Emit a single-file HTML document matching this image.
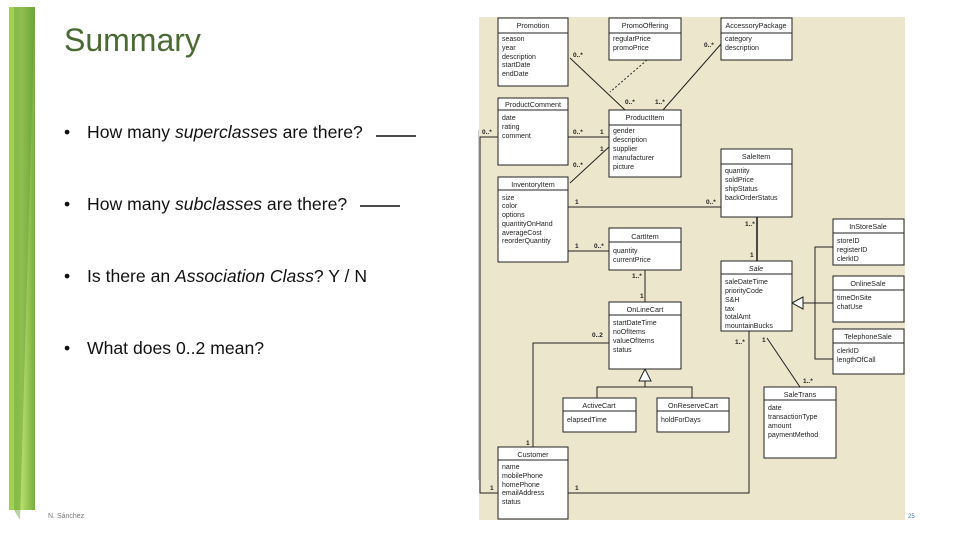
<!DOCTYPE html>
<html><head><meta charset="utf-8"><style>
body{margin:0;background:#fff;}
svg{display:block;}
.t{font-family:"Liberation Sans",sans-serif;font-size:7px;fill:#222;}
.h{font-family:"Liberation Sans",sans-serif;font-size:7.2px;fill:#222;text-anchor:middle;}
.m{font-family:"Liberation Sans",sans-serif;font-size:6.5px;fill:#222;font-weight:bold;}
.b{font-family:"Liberation Sans","DejaVu Sans",sans-serif;font-size:17.6px;fill:#111;}
</style></head><body>
<svg width="960" height="540" viewBox="0 0 960 540" xmlns="http://www.w3.org/2000/svg">
<defs>
<linearGradient id="g" x1="0" x2="1">
<stop offset="0" stop-color="#9ccf4a"/><stop offset="0.5" stop-color="#b5dc6a"/><stop offset="1" stop-color="#78ad3e"/></linearGradient>
</defs>
<rect x="9" y="7" width="26" height="503" fill="url(#g)"/>
<polygon points="14,7 35,7 30,180 20,520 14,510" fill="#5f9a31" opacity="0.45"/>
<text x="64" y="51" font-family="Liberation Sans,sans-serif" font-size="32" fill="#4b6a33">Summary</text>
<g class="b">
<text x="64" y="138">•</text><text x="87" y="138">How many <tspan font-style="italic">superclasses</tspan> are there?</text>
<line x1="376" y1="136" x2="416" y2="136" stroke="#111" stroke-width="1.5"/>
<text x="64" y="210">•</text><text x="87" y="210">How many <tspan font-style="italic">subclasses</tspan> are there?</text>
<line x1="360" y1="206" x2="400" y2="206" stroke="#111" stroke-width="1.5"/>
<text x="64" y="282">•</text><text x="87" y="282">Is there an <tspan font-style="italic">Association Class</tspan>? Y / N</text>
<text x="64" y="354">•</text><text x="87" y="354">What does 0..2 mean?</text>
</g>
<text x="48" y="518" font-family="Liberation Sans,sans-serif" font-size="7" fill="#777">N. Sánchez</text>
<line x1="478.5" y1="130" x2="478.5" y2="480" stroke="#ccc"/>
<rect x="479" y="17" width="426" height="503" fill="#ece7cc"/>
<text x="908" y="518" font-family="Liberation Sans,sans-serif" font-size="6" fill="#3a6db0">25</text>

<g stroke="#222" stroke-width="1" fill="none">
<line x1="570" y1="58" x2="625" y2="110"/>
<line x1="647" y1="60" x2="610" y2="92" stroke-dasharray="2,2"/>
<line x1="721" y1="44" x2="663" y2="110"/>
<line x1="568" y1="137" x2="609" y2="137"/>
<line x1="570" y1="183" x2="610" y2="146"/>
<line x1="568" y1="207" x2="721" y2="207"/>
<line x1="568" y1="251" x2="609" y2="251"/>
<line x1="757" y1="217" x2="757" y2="262" stroke-width="1.6"/>
<polyline points="498,137 480,137 480,493 498,493"/>
<line x1="645" y1="270" x2="645" y2="302"/>
<polyline points="609,343 533,343 533,447"/>
<polyline points="568,493 749,493 749,331"/>
<line x1="767" y1="338" x2="800" y2="387"/>
<polyline points="803,303 833,303"/>
<polyline points="833,247 815,247 815,359 833,359"/>
<polygon points="792,303 803,297 803,309" fill="#fff"/>
<polygon points="645,369 639,381 651,381" fill="#fff"/>
<line x1="645" y1="381" x2="645" y2="387"/>
<polyline points="597,398 597,387 692,387 692,398"/>
</g>

<g fill="#fff" stroke="#222" stroke-width="1">
<rect x="498" y="18" width="70" height="68"/><line x1="498" y1="33" x2="568" y2="33"/>
<rect x="609" y="18" width="72" height="42"/><line x1="609" y1="33" x2="681" y2="33"/>
<rect x="721" y="18" width="71" height="42"/><line x1="721" y1="33" x2="792" y2="33"/>
<rect x="498" y="98" width="70" height="67"/><line x1="498" y1="110" x2="568" y2="110"/>
<rect x="609" y="110" width="72" height="67"/><line x1="609" y1="125" x2="681" y2="125"/>
<rect x="498" y="177" width="70" height="85"/><line x1="498" y1="190" x2="568" y2="190"/>
<rect x="721" y="149" width="71" height="68"/><line x1="721" y1="164" x2="792" y2="164"/>
<rect x="609" y="228" width="72" height="42"/><line x1="609" y1="242" x2="681" y2="242"/>
<rect x="833" y="219" width="71" height="46"/><line x1="833" y1="233" x2="904" y2="233"/>
<rect x="721" y="261" width="71" height="70"/><line x1="721" y1="274" x2="792" y2="274"/>
<rect x="833" y="276" width="71" height="46"/><line x1="833" y1="290" x2="904" y2="290"/>
<rect x="833" y="329" width="71" height="45"/><line x1="833" y1="343" x2="904" y2="343"/>
<rect x="609" y="302" width="72" height="67"/><line x1="609" y1="315" x2="681" y2="315"/>
<rect x="563" y="398" width="73" height="34"/><line x1="563" y1="411" x2="636" y2="411"/>
<rect x="657" y="398" width="72" height="34"/><line x1="657" y1="411" x2="729" y2="411"/>
<rect x="764" y="387" width="72" height="71"/><line x1="764" y1="400" x2="836" y2="400"/>
<rect x="498" y="447" width="70" height="72"/><line x1="498" y1="460" x2="568" y2="460"/>
</g>

<g class="h">
<text x="533" y="28">Promotion</text><text x="645" y="28">PromoOffering</text><text x="756" y="28">AccessoryPackage</text>
<text x="533" y="107">ProductComment</text><text x="645" y="120">ProductItem</text><text x="533" y="187">InventoryItem</text>
<text x="756" y="159">SaleItem</text><text x="645" y="239">CartItem</text><text x="868" y="229">InStoreSale</text>
<text x="756" y="271" font-style="italic">Sale</text><text x="868" y="286">OnlineSale</text><text x="868" y="339">TelephoneSale</text>
<text x="645" y="312">OnLineCart</text><text x="599" y="408">ActiveCart</text><text x="693" y="408">OnReserveCart</text>
<text x="800" y="397">SaleTrans</text><text x="533" y="457">Customer</text>
</g>
<g class="t">
<text x="502" y="41">season</text><text x="502" y="50">year</text><text x="502" y="59">description</text><text x="502" y="67">startDate</text><text x="502" y="76">endDate</text>
<text x="613" y="41">regularPrice</text><text x="613" y="50">promoPrice</text>
<text x="725" y="41">category</text><text x="725" y="50">description</text>
<text x="502" y="120">date</text><text x="502" y="129">rating</text><text x="502" y="138">comment</text>
<text x="613" y="133">gender</text><text x="613" y="142">description</text><text x="613" y="151">supplier</text><text x="613" y="160">manufacturer</text><text x="613" y="169">picture</text>
<text x="502" y="200">size</text><text x="502" y="208">color</text><text x="502" y="217">options</text><text x="502" y="226">quantityOnHand</text><text x="502" y="235">averageCost</text><text x="502" y="243">reorderQuantity</text>
<text x="725" y="173">quantity</text><text x="725" y="182">soldPrice</text><text x="725" y="191">shipStatus</text><text x="725" y="200">backOrderStatus</text>
<text x="613" y="253">quantity</text><text x="613" y="262">currentPrice</text>
<text x="837" y="243">storeID</text><text x="837" y="252">registerID</text><text x="837" y="261">clerkID</text>
<text x="725" y="284">saleDateTime</text><text x="725" y="293">priorityCode</text><text x="725" y="302">S&amp;H</text><text x="725" y="311">tax</text><text x="725" y="319">totalAmt</text><text x="725" y="328">mountainBucks</text>
<text x="837" y="300">timeOnSite</text><text x="837" y="309">chatUse</text>
<text x="837" y="353">clerkID</text><text x="837" y="362">lengthOfCall</text>
<text x="613" y="325">startDateTime</text><text x="613" y="334">noOfItems</text><text x="613" y="343">valueOfItems</text><text x="613" y="352">status</text>
<text x="567" y="422">elapsedTime</text><text x="661" y="422">holdForDays</text>
<text x="768" y="410">date</text><text x="768" y="419">transactionType</text><text x="768" y="428">amount</text><text x="768" y="437">paymentMethod</text>
<text x="502" y="469">name</text><text x="502" y="478">mobilePhone</text><text x="502" y="487">homePhone</text><text x="502" y="495">emailAddress</text><text x="502" y="504">status</text>
</g>
<g class="m">
<text x="573" y="57">0..*</text><text x="625" y="104">0..*</text><text x="704" y="47">0..*</text><text x="655" y="104">1..*</text>
<text x="482" y="134">0..*</text><text x="573" y="134">0..*</text><text x="600" y="134">1</text>
<text x="600" y="151">1</text><text x="573" y="167">0..*</text>
<text x="575" y="204">1</text><text x="706" y="204">0..*</text>
<text x="575" y="248">1</text><text x="594" y="248">0..*</text>
<text x="745" y="226">1..*</text><text x="750" y="257">1</text>
<text x="632" y="278">1..*</text><text x="640" y="298">1</text>
<text x="592" y="337">0..2</text><text x="526" y="445">1</text>
<text x="490" y="490">1</text><text x="575" y="490">1</text>
<text x="735" y="344">1..*</text><text x="762" y="342">1</text><text x="803" y="383">1..*</text>
</g>
</svg>
</body></html>
